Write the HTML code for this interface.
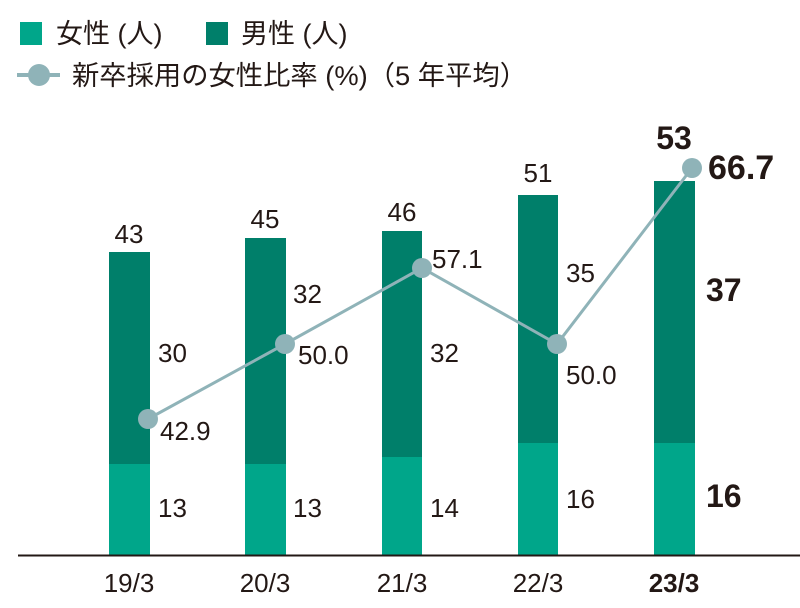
<!DOCTYPE html>
<html><head><meta charset="utf-8"><style>
html,body{margin:0;padding:0;background:#fff;}
svg text{font-family:"Liberation Sans","Noto Sans CJK JP",sans-serif;fill:#231815;}
</style></head><body>
<svg width="800" height="603" viewBox="0 0 800 603" xmlns="http://www.w3.org/2000/svg">
<rect x="20" y="22" width="22" height="23" fill="#00a68a"/>
<text x="56" y="43" font-size="27">女性 (人)</text>
<rect x="206" y="22" width="22" height="23" fill="#007f6a"/>
<text x="241" y="43" font-size="27">男性 (人)</text>
<line x1="17" y1="75" x2="60" y2="75" stroke="#8fb3b8" stroke-width="4"/>
<circle cx="39" cy="75" r="11" fill="#8fb3b8"/>
<text x="72" y="85" font-size="27" textLength="455" lengthAdjust="spacingAndGlyphs">新卒採用の女性比率 (%)（5 年平均）</text>

<g fill="#007f6a">
<rect x="109" y="252" width="41" height="212"/>
<rect x="245" y="238" width="41" height="226"/>
<rect x="382" y="231" width="40" height="226"/>
<rect x="518" y="195" width="40" height="248"/>
<rect x="654" y="181" width="41" height="262"/>
</g>
<g fill="#00a68a">
<rect x="109" y="464" width="41" height="91"/>
<rect x="245" y="464" width="41" height="91"/>
<rect x="382" y="457" width="40" height="98"/>
<rect x="518" y="443" width="40" height="112"/>
<rect x="654" y="443" width="41" height="112"/>
</g>
<line x1="18" y1="555.5" x2="800" y2="555.5" stroke="#231815" stroke-width="2"/>

<polyline points="148,419 285,344 422,268 557,344 692,168" fill="none" stroke="#8fb3b8" stroke-width="3"/>
<g fill="#8fb3b8">
<circle cx="148" cy="419" r="10"/><circle cx="285" cy="344" r="10"/><circle cx="422" cy="268" r="10"/><circle cx="557" cy="344" r="10"/><circle cx="692" cy="168" r="10"/>
</g>

<g font-size="26" text-anchor="middle">
<text x="129" y="243">43</text>
<text x="265" y="228">45</text>
<text x="402" y="221">46</text>
<text x="538" y="182">51</text>
<text x="674" y="149" font-size="32" font-weight="bold">53</text>
</g>
<g font-size="26">
<text x="158" y="362">30</text>
<text x="293" y="303">32</text>
<text x="430" y="362">32</text>
<text x="566" y="282">35</text>
<text x="706" y="301" font-size="32" font-weight="bold">37</text>
<text x="158" y="517">13</text>
<text x="293" y="517">13</text>
<text x="430" y="517">14</text>
<text x="566" y="508">16</text>
<text x="706" y="507" font-size="32" font-weight="bold">16</text>
<text x="160" y="440">42.9</text>
<text x="298" y="364">50.0</text>
<text x="432" y="268">57.1</text>
<text x="566" y="384">50.0</text>
<text x="708" y="179" font-size="34" font-weight="bold">66.7</text>
</g>
<g font-size="26" text-anchor="middle">
<text x="129" y="592">19/3</text>
<text x="265" y="592">20/3</text>
<text x="402" y="592">21/3</text>
<text x="538" y="592">22/3</text>
<text x="674" y="592" font-weight="bold">23/3</text>
</g>
</svg>
</body></html>
